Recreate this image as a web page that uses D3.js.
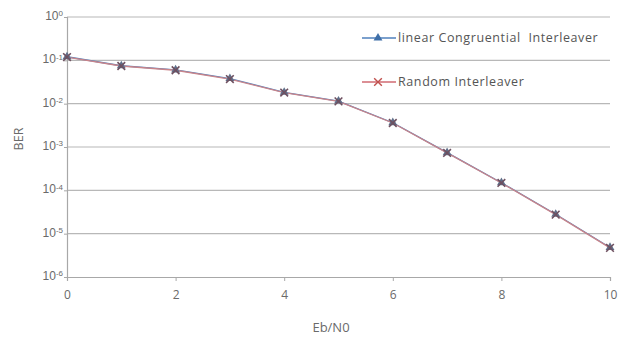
<!DOCTYPE html>
<html><head><meta charset="utf-8">
<script src="https://cdn.jsdelivr.net/npm/d3@7"></script>
<style>body{margin:0;background:#fff;}svg{display:block;font-family:"Open Sans","DejaVu Sans",sans-serif;}</style>
</head><body><svg id="c" width="620" height="339"></svg>
<script>
const ebn0 = [0,1,2,3,4,5,6,7,8,9,10];
const berLCG = [0.121,0.075,0.060,0.038,0.0183,0.0115,0.00363,0.00074,0.00015,0.000028,0.0000048];
const berRandom = [0.119,0.074,0.059,0.037,0.0180,0.0113,0.00358,0.00073,0.000148,0.0000275,0.0000047];
const xTicks = [0,2,4,6,8,10];
const yExps = [0,-1,-2,-3,-4,-5,-6];
const seriesNames = ["linear Congruential  Interleaver","Random Interleaver"];

const svg = d3.select("#c");
const x = d3.scaleLinear().domain([0,10]).range([67,610]);
const y = d3.scaleLog().domain([1,1e-6]).range([17,277]);
const grid = "#b8b8b8", axisC = "#a8a8a8", txt = "#6a6a6a";

// gridlines
svg.append("g").selectAll("line").data(yExps.filter(e=>e>-6)).join("line")
  .attr("x1",67).attr("x2",610).attr("y1",e=>y(Math.pow(10,e))).attr("y2",e=>y(Math.pow(10,e)))
  .attr("stroke",grid).attr("stroke-width",1.2);

// axes
const ax = svg.append("g").attr("transform","translate(0,277)")
  .call(d3.axisBottom(x).tickValues(xTicks).tickSize(4).tickPadding(9).tickFormat(d3.format("d")));
ax.select(".domain").attr("stroke",axisC).attr("stroke-width",1.2);
ax.selectAll(".tick line").attr("stroke",axisC);
ax.selectAll(".tick text").attr("fill",txt).style("font-size","12px").style("font-family","'Open Sans',sans-serif");

const ay = svg.append("g").attr("transform","translate(67,0)")
  .call(d3.axisLeft(y).tickValues(yExps.map(e=>Math.pow(10,e))).tickSize(3).tickFormat(""));
ay.select(".domain").attr("stroke",axisC).attr("stroke-width",1.2);
ay.selectAll(".tick line").attr("stroke",axisC);
ay.selectAll(".tick").each(function(d){
  const e = Math.round(Math.log10(d));
  const t = d3.select(this).append("text").attr("x",-4).attr("dy","0.2em")
    .attr("text-anchor","end").attr("fill",txt).style("font-size","12px");
  t.append("tspan").text("10");
  t.append("tspan").attr("dy","-0.45em").style("font-size","8px").text(e===0?"0":"-"+(-e));
});

// axis titles
svg.append("text").attr("transform","translate(23,139) rotate(-90)").attr("text-anchor","middle")
  .attr("fill",txt).style("font-size","12.5px").text("BER");
svg.append("text").attr("x",331).attr("y",332).attr("text-anchor","middle")
  .attr("fill",txt).style("font-size","13px").text("Eb/N0");

// lines
const line = d3.line().x((d,i)=>x(ebn0[i])).y(d=>y(d));
svg.append("path").datum(berLCG).attr("d",line).attr("fill","none").attr("stroke","#4f81bd").attr("stroke-width",1.3);
svg.append("path").datum(berRandom).attr("d",line).attr("fill","none").attr("stroke","#c9848a").attr("stroke-width",1.3);

// markers
const tri = d3.symbol().type(d3.symbolTriangle).size(34);
const star = d3.symbol().type(d3.symbolX).size(40);
svg.append("g").selectAll("path").data(berLCG).join("path")
  .attr("transform",(d,i)=>`translate(${x(ebn0[i])},${y(d)})`).attr("d",tri).attr("fill","#5f6f8a");
svg.append("g").selectAll("path").data(berRandom).join("path")
  .attr("transform",(d,i)=>`translate(${x(ebn0[i])},${y(d)})`).attr("d",star).attr("fill","none")
  .attr("stroke","#6e5060").attr("stroke-width",1.6);

// legend
const leg = svg.append("g");
const ly = [38,82];
leg.append("line").attr("x1",362).attr("x2",396).attr("y1",ly[0]).attr("y2",ly[0]).attr("stroke","#4f81bd").attr("stroke-width",1.3);
leg.append("path").attr("transform",`translate(378,${ly[0]})`).attr("d",tri).attr("fill","#3f6fa8");
leg.append("line").attr("x1",362).attr("x2",396).attr("y1",ly[1]).attr("y2",ly[1]).attr("stroke","#d06a72").attr("stroke-width",1.3);
leg.append("path").attr("transform",`translate(378,${ly[1]})`).attr("d",star).attr("fill","none").attr("stroke","#c0504d").attr("stroke-width",1.4);
leg.selectAll("text").data(seriesNames).join("text")
  .attr("x",398).attr("y",(d,i)=>ly[i]).attr("dy","0.35em").attr("fill","#555")
  .style("font-size","12.5px").style("letter-spacing","0.6px").attr("xml:space","preserve").text(d=>d);
</script></body></html>
